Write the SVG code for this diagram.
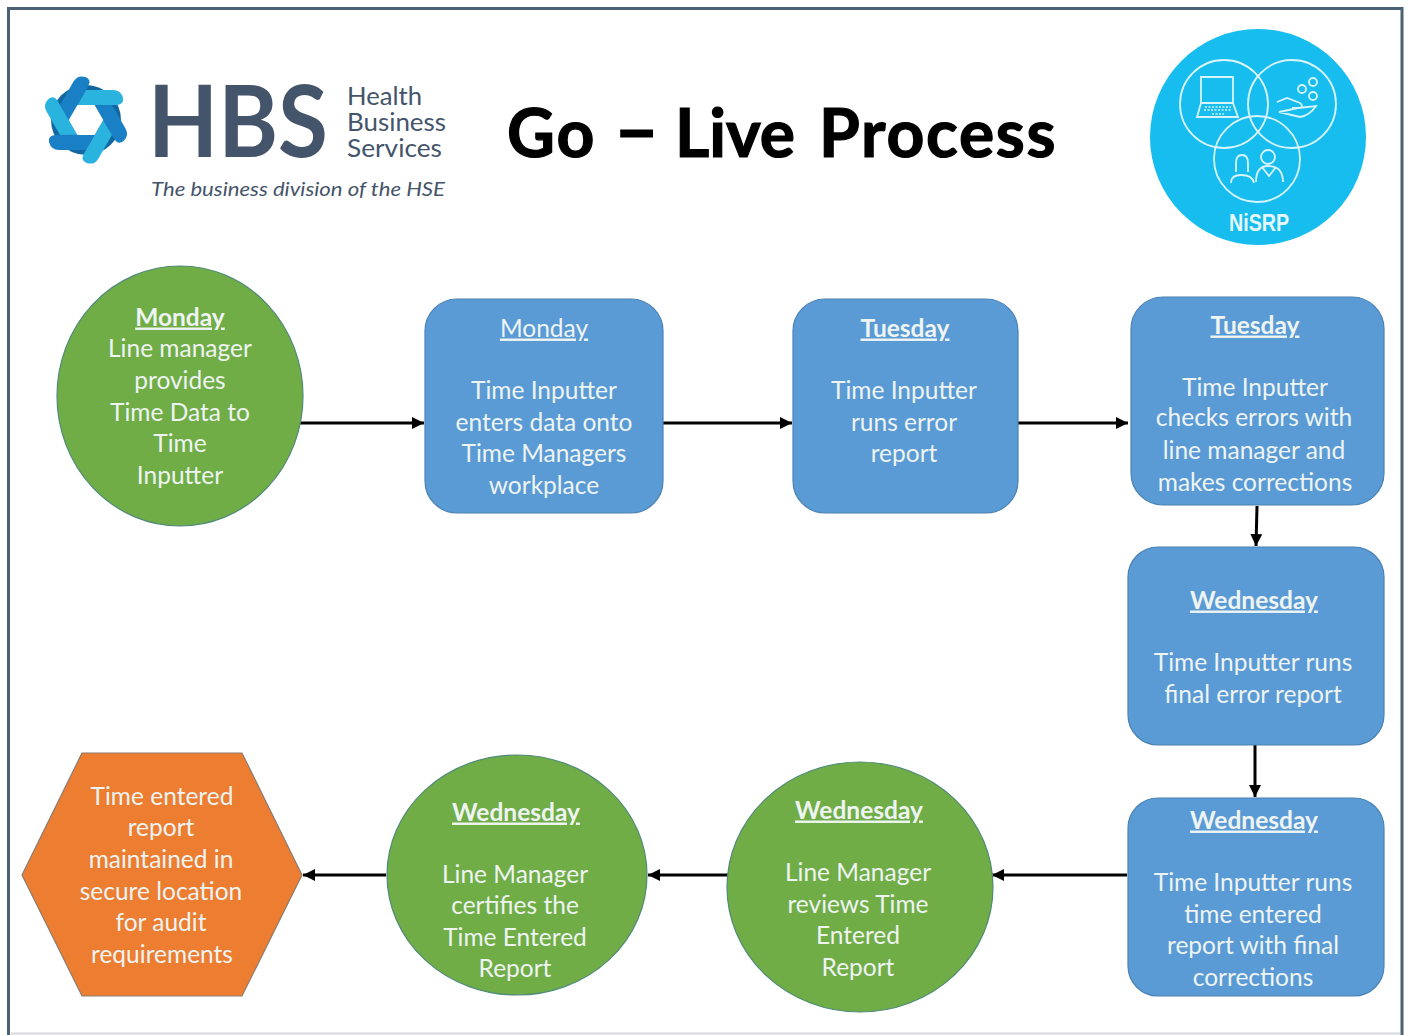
<svg xmlns="http://www.w3.org/2000/svg" width="1411" height="1035" viewBox="0 0 1411 1035">
<style>
.t{font-family:"Lato","Open Sans","Liberation Sans",sans-serif;font-size:24.500px;fill:#eef4f2;text-anchor:middle}
.b{font-weight:700;text-decoration:underline}
.blue{fill:#5b9bd5;stroke:#4a82b4;stroke-width:1.2}
.green{fill:#70ad47;stroke:#4f8a78;stroke-width:1.2}
.orange{fill:#ed7d31;stroke:#8a7c70;stroke-width:1.2}
.c{stroke:#000;stroke-width:3;fill:none;marker-end:url(#a)}
.w{fill:none;stroke:#d8f4fc;stroke-width:1.800}
.h{font-family:"Lato","Open Sans","Liberation Sans",sans-serif;fill:#44546a}
.light{fill:#2bb3e0}
.dark{fill:#1a80c6}
</style>
<defs>
<marker id="a" markerUnits="userSpaceOnUse" markerWidth="14" markerHeight="14" refX="12" refY="6" orient="auto"><path d="M0 0L12 6L0 12z" fill="#000"/></marker>
<path id="band" d="M-8.500 -15L30 -15Q38 -15 37 -22Q35 -30 27 -30L0 -30Z"/>
</defs>
<rect width="1411" height="1035" fill="#fff"/>
<g id="frame">
<path d="M8.500 1035V8.500H1402V1035" fill="none" stroke="#4a6274" stroke-width="3"/>
<path d="M11 1033.500H1400" stroke="#d5d8dc" stroke-width="2"/>
</g>
<g id="hbs-logo">
<g transform="translate(86 120)">
<circle r="35" fill="#11679f"/>
<use href="#band" class="dark" transform="rotate(60)"/>
<use href="#band" class="dark" transform="rotate(180)"/>
<use href="#band" class="dark" transform="rotate(300)"/>
<use href="#band" class="light" transform="rotate(0)"/>
<use href="#band" class="light" transform="rotate(120)"/>
<use href="#band" class="light" transform="rotate(240)"/>
<path d="M-17.300 0L-8.600 -15H8.600L17.300 0L8.600 15H-8.600Z" fill="#fff"/>
</g>
<text class="h" x="148" y="157" font-size="100" font-weight="700" textLength="180" lengthAdjust="spacingAndGlyphs">HBS</text>
<text class="h" x="347" y="105" font-size="25" textLength="75" lengthAdjust="spacingAndGlyphs">Health</text>
<text class="h" x="347" y="131" font-size="25" textLength="99" lengthAdjust="spacingAndGlyphs">Business</text>
<text class="h" x="347" y="157" font-size="25" textLength="95" lengthAdjust="spacingAndGlyphs">Services</text>
<text class="h" x="151" y="196" font-size="19" font-style="italic" textLength="294" lengthAdjust="spacingAndGlyphs">The business division of the HSE</text>
</g>
<text id="title" y="157" font-family="Lato,'Open Sans',sans-serif" font-size="66" font-weight="700" fill="#000" stroke="#000" stroke-width="1.200"><tspan x="507" letter-spacing="2">Go</tspan> <tspan x="614" font-size="78">–</tspan> <tspan x="675">Live</tspan> <tspan x="819" letter-spacing="1.700">Process</tspan></text>
<g id="nisrp-logo">
<circle cx="1258" cy="137" r="108" fill="#16bdee"/>
<circle class="w" cx="1224" cy="104" r="44"/>
<circle class="w" cx="1292" cy="104" r="44"/>
<circle class="w" cx="1257" cy="159" r="43"/>
<path class="w" d="M1201 77H1233V103H1201ZM1201 103L1197 117H1238L1233 103"/>
<path d="M1205 107H1231M1204 110H1232M1212 114H1224" stroke="#d8f4fc" stroke-width="1.500" stroke-dasharray="2 1.500" fill="none"/>
<path class="w" d="M1277 102L1287 98L1300 103C1303 105 1303 108 1298 108H1292M1298 108L1316 106C1312 112 1306 116 1300 117L1279 112Z"/>
<circle class="w" cx="1302" cy="89" r="4"/><circle class="w" cx="1313" cy="82" r="4"/><circle class="w" cx="1313" cy="96" r="4"/>
<path class="w" d="M1236 172V163C1236 157 1239 155 1242 155C1246 155 1248 158 1248 163V172M1231 183C1231 176 1236 175 1241 175C1248 175 1253 177 1254 183"/>
<circle class="w" cx="1268" cy="157" r="7"/>
<path class="w" d="M1256 182C1256 171 1260 166 1268 166C1278 166 1283 171 1283 182M1262 167L1269 176L1276 167"/>
<text x="1259" y="231" font-family="'Liberation Sans',sans-serif" font-size="23" font-weight="700" fill="#e6f8fd" text-anchor="middle" textLength="60" lengthAdjust="spacingAndGlyphs">NiSRP</text>
</g>
<g id="connectors">
<path class="c" d="M300 423H424"/>
<path class="c" d="M663 423H792"/>
<path class="c" d="M1017 423H1128"/>
<path class="c" d="M1257 506L1256 546"/>
<path class="c" d="M1255 745V797"/>
<path class="c" d="M1127 875H992"/>
<path class="c" d="M729 875H648"/>
<path class="c" d="M386 875H303"/>
</g>
<g id="n1" transform="translate(0 .5)"><ellipse class="green" cx="180" cy="395.500" rx="123" ry="130"/>
<text class="t b" x="180" y="325">Monday</text>
<text class="t" x="180" y="356">Line manager</text>
<text class="t" x="180" y="388">provides</text>
<text class="t" x="180" y="420">Time Data to</text>
<text class="t" x="180" y="451">Time</text>
<text class="t" x="180" y="483">Inputter</text></g>
<g id="n2" transform="translate(0 .5)"><rect class="blue" x="425" y="298.500" width="238" height="214" rx="32"/>
<text class="t" x="544" y="336" text-decoration="underline">Monday</text>
<text class="t" x="544" y="398">Time Inputter</text>
<text class="t" x="544" y="430">enters data onto</text>
<text class="t" x="544" y="461">Time Managers</text>
<text class="t" x="544" y="493">workplace</text></g>
<g id="n3" transform="translate(0 .5)"><rect class="blue" x="793" y="298.500" width="225" height="214" rx="32"/>
<text class="t b" x="905" y="336">Tuesday</text>
<text class="t" x="904" y="398">Time Inputter</text>
<text class="t" x="904" y="430">runs error</text>
<text class="t" x="904" y="461">report</text></g>
<g id="n4" transform="translate(0 .5)"><rect class="blue" x="1131" y="296.500" width="253" height="208" rx="32"/>
<text class="t b" x="1255" y="333">Tuesday</text>
<text class="t" x="1255" y="395">Time Inputter</text>
<text class="t" x="1254" y="425">checks errors with</text>
<text class="t" x="1254" y="458">line manager and</text>
<text class="t" x="1255" y="490">makes corrections</text></g>
<g id="n5" transform="translate(0 .5)"><rect class="blue" x="1128" y="546.500" width="256" height="198" rx="30"/>
<text class="t b" x="1254" y="608">Wednesday</text>
<text class="t" x="1253" y="670">Time Inputter runs</text>
<text class="t" x="1253" y="702">final error report</text></g>
<g id="n6" transform="translate(0 .5)"><rect class="blue" x="1128" y="797.500" width="256" height="198" rx="30"/>
<text class="t b" x="1254" y="828">Wednesday</text>
<text class="t" x="1253" y="890">Time Inputter runs</text>
<text class="t" x="1253" y="922">time entered</text>
<text class="t" x="1253" y="953">report with final</text>
<text class="t" x="1253" y="985">corrections</text></g>
<g id="n7" transform="translate(0 .5)"><ellipse class="green" cx="860" cy="886.500" rx="133" ry="125"/>
<text class="t b" x="859" y="818">Wednesday</text>
<text class="t" x="858" y="880">Line Manager</text>
<text class="t" x="858" y="912">reviews Time</text>
<text class="t" x="858" y="943">Entered</text>
<text class="t" x="858" y="975">Report</text></g>
<g id="n8" transform="translate(0 .5)"><ellipse class="green" cx="517" cy="874.500" rx="130" ry="120"/>
<text class="t b" x="516" y="820">Wednesday</text>
<text class="t" x="515" y="882">Line Manager</text>
<text class="t" x="515" y="913">certifies the</text>
<text class="t" x="515" y="945">Time Entered</text>
<text class="t" x="515" y="976">Report</text></g>
<g id="n9" transform="translate(0 .5)"><path class="orange" d="M22 874.500L82 752.500H242L302 874.500L242 995.500H82Z"/>
<text class="t" x="162" y="804">Time entered</text>
<text class="t" x="161" y="835">report</text>
<text class="t" x="161" y="867">maintained in</text>
<text class="t" x="161" y="899">secure location</text>
<text class="t" x="161" y="930">for audit</text>
<text class="t" x="162" y="962">requirements</text></g>
</svg>
